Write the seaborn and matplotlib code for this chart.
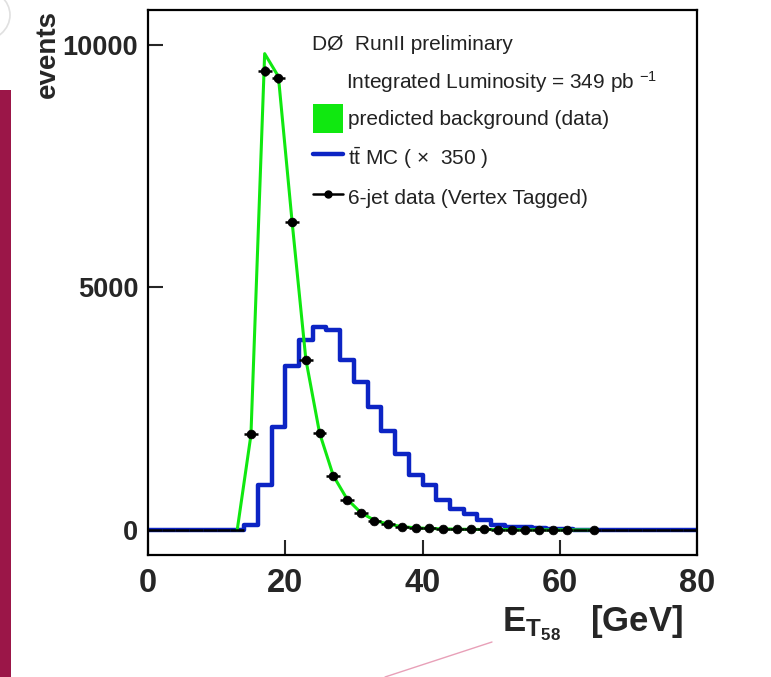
import matplotlib
matplotlib.use("Agg")
import matplotlib.pyplot as plt
import numpy as np
import pandas as pd
import seaborn as sns
from matplotlib.lines import Line2D
from matplotlib.patches import Patch, Rectangle, Circle

# --- Data (2 GeV bins from 0 to 80)
bin_edges = list(range(0, 82, 2))
bin_centers = np.arange(1, 80, 2)

# ttbar MC (x350), per bin
ttbar_counts = (
    [0] * 7
    + [100, 920, 2120, 3390, 3920, 4180, 4120, 3500, 3060, 2530, 2050, 1560,
       1130, 920, 620, 430, 330, 210, 100, 70, 70, 40, 30, 20, 10]
    + [0] * 8
)

# 6-jet data (vertex tagged), per bin
data_counts = (
    [0] * 7
    + [1980, 9460, 9310, 6350, 3510, 2000, 1120, 620, 345, 192, 118, 68, 48,
       35, 25, 20, 15, 12, 10, 8, 6, 5, 4, 3]
    + [0, 2]
    + [0] * 7
)

# predicted background curve
bkg_x = np.arange(13, 67, 2)
bkg_y = [0, 1960, 9820, 9350, 6350, 3520, 2000, 1120, 640, 360, 200, 120, 70,
         45, 32, 24, 18, 14, 11, 9, 7, 5, 4, 3, 2, 1, 1]

green = "#10e810"
blue = "#0c24c4"

ttbar_df = pd.DataFrame({"et": bin_centers, "n": ttbar_counts})

# --- Style
sns.set_style("ticks")
plt.rcParams["font.family"] = ["Liberation Sans", "DejaVu Sans"]
plt.rcParams["mathtext.fontset"] = "custom"
plt.rcParams["mathtext.rm"] = "Liberation Sans"
plt.rcParams["mathtext.it"] = "Liberation Sans:italic"
plt.rcParams["mathtext.bf"] = "Liberation Sans:bold"

W, H = 771, 677
fig = plt.figure(figsize=(W / 100, H / 100), dpi=100)
ax = fig.add_axes([148 / W, 1 - 555 / H, (697 - 148) / W, (555 - 10) / H])

# --- Plot
sns.histplot(
    data=ttbar_df, x="et", weights="n", bins=bin_edges, element="step",
    fill=False, color=blue, linewidth=3.2, ax=ax, zorder=2,
)
sns.lineplot(x=bkg_x, y=bkg_y, color=green, linewidth=2.2, sort=False, ax=ax,
             zorder=3)

counts = np.array(data_counts)
ax.errorbar(bin_centers, counts, xerr=1, yerr=np.sqrt(counts), fmt="none",
            ecolor="black", elinewidth=1.8, zorder=4)
nonzero = counts > 0
sns.scatterplot(x=bin_centers[nonzero], y=counts[nonzero], color="black",
                s=40, edgecolor="black", ax=ax, zorder=5)

# --- Axes
ax.set_xlim(0, 80)
ax.set_ylim(-515, 10720)
ax.set_xticks([0, 20, 40, 60, 80])
ax.set_yticks([0, 5000, 10000])
ax.tick_params(direction="in", length=11, width=1.5,
               top=False, right=False)
ax.tick_params(axis="x", pad=9, labelsize=23.5)
ax.tick_params(axis="y", pad=7, labelsize=19.5)
for lab in ax.get_xticklabels() + ax.get_yticklabels():
    lab.set_fontweight("bold")
for sp in ax.spines.values():
    sp.set_linewidth(1.6)
    sp.set_color("black")

ax.set_ylabel("events", fontsize=20, fontweight="bold", loc="top")
ax.yaxis.set_label_coords((61 - 148) / 549, 1.0)
ax.set_xlabel(r"$\mathbf{E}_{\mathbf{T}_{\mathbf{58}}}$   [GeV]", fontsize=25,
              fontweight="bold", loc="right")
ax.xaxis.set_label_coords((683 - 148) / 549, (555 - 603) / 545)

# --- Legend
fig.text(312 / W, 1 - 45 / H, "DØ  RunII preliminary", fontsize=15,
         color="#222222", va="center")
fig.text(346 / W, 1 - 82 / H, r"Integrated Luminosity = 349 pb $^{\mathrm{-1}}$",
         fontsize=15, color="#222222", va="center")
handles = [
    Patch(facecolor=green, edgecolor="none"),
    Line2D([], [], color=blue, linewidth=3.2),
    Line2D([], [], color="black", linewidth=1.8, marker="o", markersize=5),
]
labels = [
    "predicted background (data)",
    r"$\mathrm{t\bar{t}}$ MC ( $\times$  350 )",
    "6-jet data (Vertex Tagged)",
]
ax.legend(handles, labels, loc="upper left",
          bbox_to_anchor=(313 / W, 1 - 104 / H), bbox_transform=fig.transFigure,
          frameon=False, fontsize=15, borderpad=0, borderaxespad=0,
          handlelength=1.44, handleheight=1.73, handletextpad=0.25,
          labelspacing=0.53, labelcolor="#222222")

# --- Slide decorations
fig.patches.append(Rectangle((0, 0), 11 / W, 1 - 90 / H, transform=fig.transFigure,
                             facecolor="#9b1648", edgecolor="none"))
fig.patches.append(Circle((-20 / W, 1 - 15 / H), 30 / W, transform=fig.transFigure,
                          facecolor="none", edgecolor="#e0e0e0", linewidth=1.2))
fig.lines.append(Line2D([385 / W, 492 / W], [0, 1 - 642 / H],
                        transform=fig.transFigure, color="#e8a0b8", linewidth=1))

fig.savefig("out.png", dpi=100)
